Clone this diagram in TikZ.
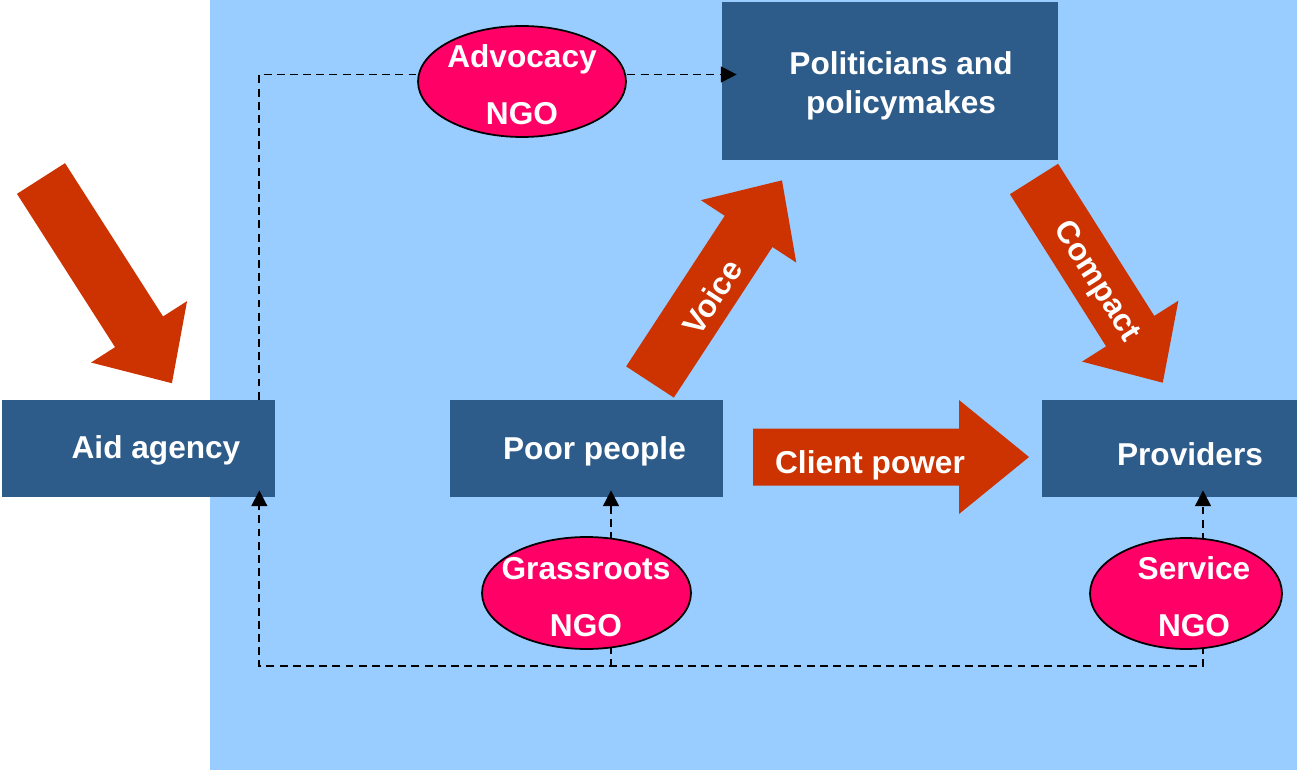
\documentclass[tikz,border=0pt]{standalone}
\usepackage{fontspec}
\setmainfont{Liberation Sans}
\usetikzlibrary{arrows.meta,backgrounds,calc,shapes.geometric}

\definecolor{skyblue}{HTML}{99CCFF}
\definecolor{boxblue}{HTML}{2E5C8A}
\definecolor{rust}{HTML}{CC3300}
\definecolor{ngopink}{HTML}{FF0066}

% fat arrow: tail centre, angle, length, head length
\newcommand{\fatarrow}[4]{%
  \fill[rust, shift={#1}, rotate=#2]
    (0,-28.5) -- (#3-#4,-28.5) -- (#3-#4,-57) -- (#3,0)
    -- (#3-#4,57) -- (#3-#4,28.5) -- (0,28.5) -- cycle;}

\begin{document}
\begin{tikzpicture}[x=0.02cm,y=-0.02cm]
\tikzstyle{box}=[rectangle,fill=boxblue,inner sep=0pt,minimum height=1.94cm]
\tikzstyle{ngo}=[ellipse,fill=ngopink,draw=black,line width=1pt,inner sep=0pt]
\tikzstyle{txt}=[text=white,font=\bfseries\fontsize{18}{22}\selectfont,inner sep=0pt]
\tikzstyle{twoline}=[txt,align=center,font=\bfseries\fontsize{18}{32.4}\selectfont]
\tikzstyle{link}=[black,line width=1.1pt,dash pattern=on 4.5pt off 3pt]
\tikzstyle{tip}=[-{Triangle[length=9pt,width=9pt]}]

\useasboundingbox (0,0) rectangle (1297,770);

% backdrop and boxes
\begin{scope}[on background layer]
\fill[skyblue] (210,0) rectangle (1297,770);
\node[box,minimum width=5.46cm] (aid) at (138.5,448.5) {};
\node[box,minimum width=5.46cm] (poor) at (586.5,448.5) {};
\node[box,minimum width=5.10cm] (prov) at (1169.5,448.5) {};
\node[box,minimum width=6.72cm,minimum height=3.16cm] (pol) at (890,81) {};
\end{scope}

\node[txt,anchor=base] (aidtxt) at (156,458) {Aid agency};
\node[txt,anchor=base] (poortxt) at (594.5,459) {Poor people};
\node[txt,anchor=base] (provtxt) at (1190,465) {Providers};
\node[twoline,font=\bfseries\fontsize{18}{22.2}\selectfont] (poltxt) at (901,86) {Politicians and\\policymakes};

% NGOs
\node[ngo,minimum width=4.16cm,minimum height=2.22cm] (adv) at (522,81.5) {};
\node[ngo,minimum width=4.18cm,minimum height=2.24cm] (grass) at (586.5,593) {};
\node[ngo,minimum width=3.84cm,minimum height=2.22cm] (serv) at (1186,593.5) {};
\node[twoline] (advtxt) at (522,85) {Advocacy\\NGO};
\node[twoline] (grasstxt) at (586,597) {Grassroots\\NGO};
\node[twoline] (servtxt) at (1194,597) {Service\\NGO};

% big arrows
\fatarrow{(41,178.5)}{-57.4}{243}{61}
\fatarrow{(650,382)}{56.8}{241}{61}
\fatarrow{(1034,179)}{-57.7}{241}{61}
\fatarrow{(753,457)}{0}{276}{70}
\node[txt,rotate=56.8] (voice) at (712,297) {Voice};
\node[txt,rotate=-57.7] (compact) at (1096,282) {Compact};
\node[txt,anchor=base] (client) at (870,473) {Client power};

% dashed links
\begin{scope}[on background layer]
\coordinate (aidtop) at ($(aid.north east)+(-16,0)$);
\coordinate (aidbot) at ($(aid.south east)+(-16,0)$);
\coordinate (a1) at ($(adv.center)+(0,-7)$);
\coordinate (g1) at ($(grass.center)+(24.5,0)$);
\coordinate (s1) at ($(serv.center)+(17,0)$);
\draw[link] (aidtop) |- (a1);
\draw[link,tip,shorten >=-0.3cm] (a1) -- (a1 -| pol.west);
\draw[link,tip,shorten >=-0.14cm] (g1) -- (g1 |- poor.south);
\draw[link,tip,shorten >=-0.14cm] (s1) -- (s1 |- prov.south);
\draw[link] (g1) -- ++(0,73);
\draw[link,tip,shorten >=-0.14cm] (s1) |- ($(aidbot)+(0,169)$) -- (aidbot);
\end{scope}
\end{tikzpicture}
\end{document}
